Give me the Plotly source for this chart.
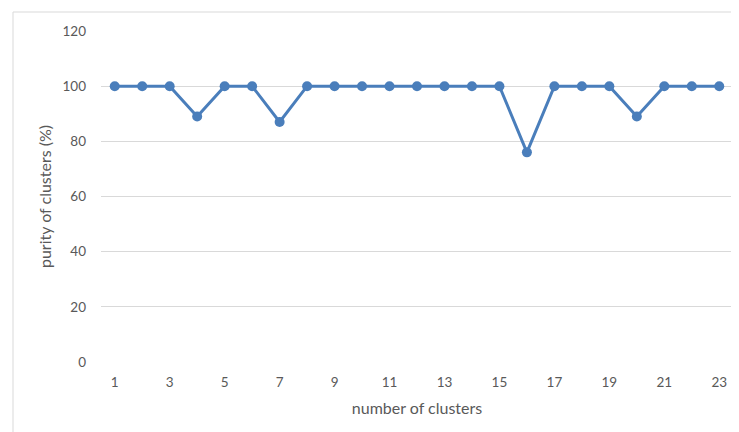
import plotly.graph_objects as go

clusters = list(range(1, 24))
purity = [100, 100, 100, 89, 100, 100, 87, 100, 100, 100, 100, 100, 100, 100, 100,
          76, 100, 100, 100, 89, 100, 100, 100]
x_ticks = [1, 3, 5, 7, 9, 11, 13, 15, 17, 19, 21, 23]
y_ticks = [0, 20, 40, 60, 80, 100, 120]

font_family = "Lato, 'Open Sans', sans-serif"
grey = "#595959"

# page body has an 8px margin; figure origin sits at (8, 8) in the window
W, H = 731, 424
L, R, T, B = 93, 6, 23, 70

fig = go.Figure(go.Scatter(
    x=clusters, y=purity, mode="lines+markers",
    line=dict(color="#4a7ebb", width=3),
    marker=dict(color="#4a7ebb", size=10),
))

pw = W - L - R
ph = H - T - B

fig.update_layout(
    width=W, height=H,
    margin=dict(l=L, r=R, t=T, b=B),
    paper_bgcolor="white", plot_bgcolor="white",
    showlegend=False,
    font=dict(family=font_family, size=13.5, color=grey),
    xaxis=dict(
        range=[0.5, 23.5], tickmode="array", tickvals=x_ticks,
        ticktext=[str(v) for v in x_ticks],
        showgrid=False, zeroline=False, showline=False, ticks="",
        ticklabelstandoff=10,
        title=dict(text="number of clusters", font=dict(size=16, color=grey), standoff=14),
    ),
    yaxis=dict(
        range=[0, 120], tickmode="array", tickvals=y_ticks,
        showgrid=True, gridcolor="#d9d9d9", gridwidth=1,
        zeroline=False, showline=False, ticks="",
        ticklabelstandoff=14,
        title=dict(text="purity of clusters (%)", font=dict(size=16, color=grey), standoff=6),
    ),
    shapes=[dict(
        type="rect", xref="paper", yref="paper",
        x0=(5 - L) / pw, x1=(745 - L) / pw,
        y0=-0.5, y1=1 + (T - 4) / ph,
        line=dict(color="#d9d9d9", width=1), fillcolor="rgba(0,0,0,0)", layer="below",
    )],
)

fig.write_html("out.html")
